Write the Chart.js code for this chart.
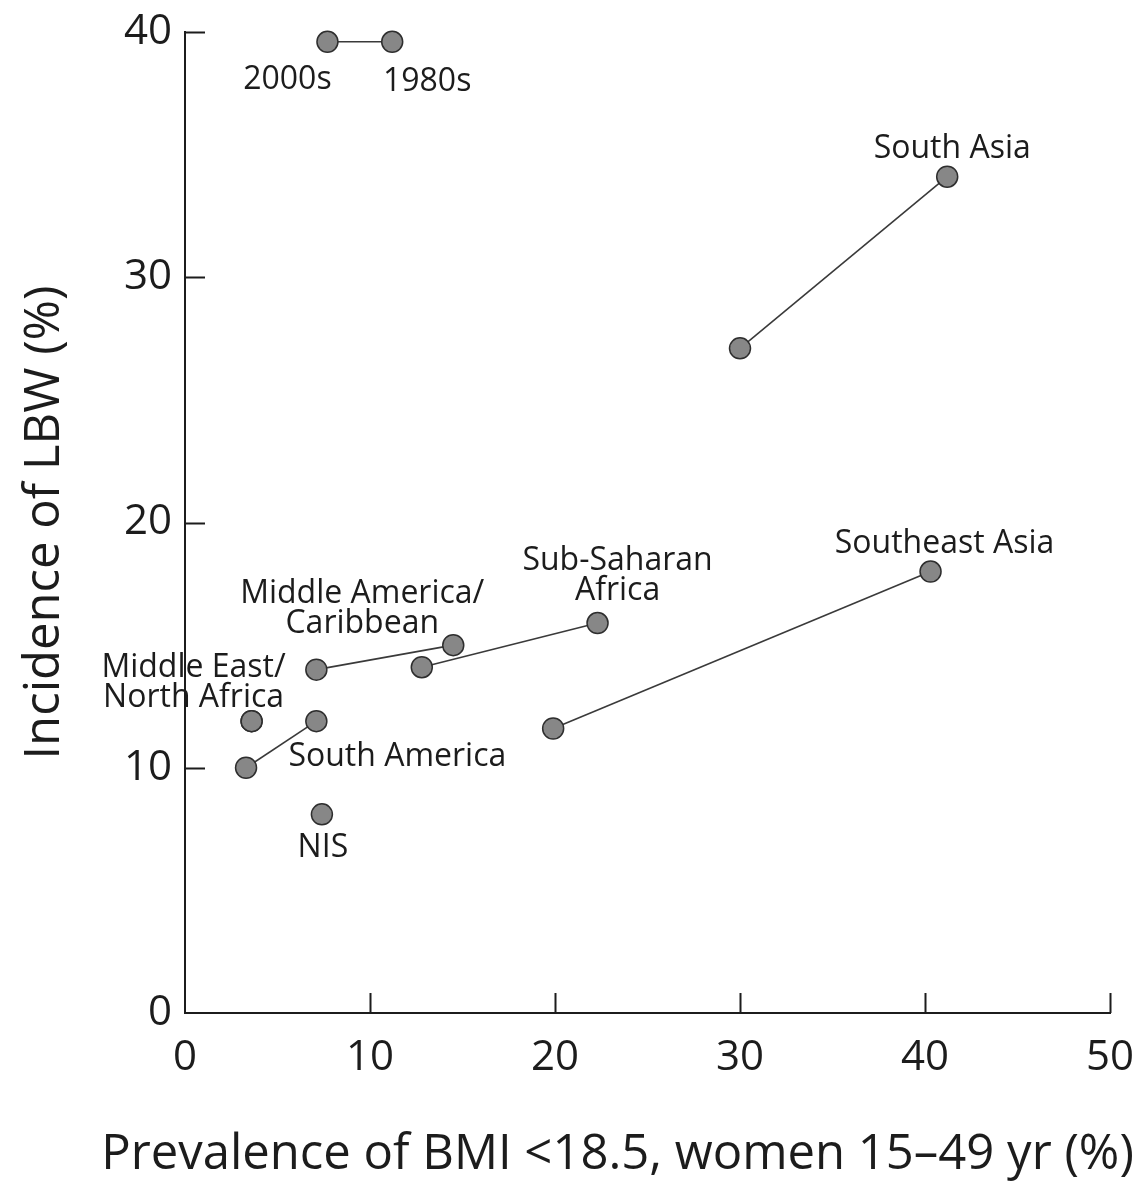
<!DOCTYPE html>
<html>
<head>
<meta charset="utf-8">
<script src="https://cdn.jsdelivr.net/npm/chart.js@4/dist/chart.umd.min.js"></script>
<style>
  html, body { margin: 0; padding: 0; background: #fff; }
  #wrap { width: 1142px; height: 1183px; position: relative; }
</style>
</head>
<body>
<div id="wrap"><canvas id="chart"></canvas></div>
<script>
// Maternal underweight (BMI < 18.5) vs incidence of low birth weight, by region,
// each region shown as a 2000s point joined to its 1980s point.
const regions = ['South Asia', 'Southeast Asia', 'Sub-Saharan Africa',
  'Middle America/Caribbean', 'Middle East/North Africa', 'South America', 'NIS'];
const regionLabelLines = [
  ['South Asia'], ['Southeast Asia'], ['Sub-Saharan', 'Africa'],
  ['Middle America/', 'Caribbean'], ['Middle East/', 'North Africa'],
  ['South America'], ['NIS']
];
const bmi2000s = [30.0, 19.9, 12.8, 7.1, 3.6, 3.3, 7.4];
const lbw2000s = [27.1, 11.6, 14.1, 14.0, 11.9, 10.0, 8.1];
const bmi1980s = [41.2, 40.3, 22.3, 14.5, 3.6, 7.1, null];
const lbw1980s = [34.1, 18.0, 15.9, 15.0, 11.9, 11.9, null];

// Key in the upper left: one 2000s/1980s pair
const keyLabels = ['2000s', '1980s'];
const keyBmi = [7.7, 11.2];
const keyLbw = [39.6, 39.6];

const xTicks = [0, 10, 20, 30, 40, 50];
const yTicks = [0, 10, 20, 30, 40];
const xTitle = 'Prevalence of BMI <18.5, women 15–49 yr (%)';
const yTitle = 'Incidence of LBW (%)';

// Where each region's text sits: which point it hangs off and the pixel shift from it
const labelPlacement = [
  { point: 1, dx: 5, dy: -28 },
  { point: 1, dx: 14, dy: -28 },
  { point: 1, dx: 20, dy: -62 },
  { point: 1, dx: -91, dy: -51 },
  { point: 0, dx: -58, dy: -53 },
  { point: 1, dx: 81, dy: 36 },
  { point: 0, dx: 1, dy: 34 }
];
const keyPlacement = [{ dx: -40, dy: 38 }, { dx: 35, dy: 40 }];

const FONT = '"Open Sans", "Noto Sans", sans-serif';
const INK = '#1c1c1c';
const markerStyle = {
  pointRadius: 10.5, pointHoverRadius: 10.5,
  pointBackgroundColor: '#878787', pointBorderColor: '#2e2e2e', pointBorderWidth: 1.5,
  borderColor: '#3a3a3a', borderWidth: 1.6, showLine: true, fill: false, clip: false
};

const datasets = regions.map((name, i) => {
  const pts = [{ x: bmi2000s[i], y: lbw2000s[i] }];
  if (bmi1980s[i] !== null) pts.push({ x: bmi1980s[i], y: lbw1980s[i] });
  return Object.assign({ label: name, data: pts }, markerStyle);
});
datasets.push(Object.assign({
  label: 'key',
  data: keyBmi.map((x, i) => ({ x, y: keyLbw[i] }))
}, markerStyle));

// Inward tick marks on both axes
const inwardTicks = {
  id: 'inwardTicks',
  beforeDatasetsDraw(chart) {
    const { ctx, chartArea: a, scales: { x, y } } = chart;
    ctx.save();
    ctx.strokeStyle = INK;
    ctx.lineWidth = 2;
    ctx.beginPath();
    xTicks.slice(1).forEach(v => {
      const px = Math.round(x.getPixelForValue(v)) + 0.5;
      ctx.moveTo(px, a.bottom); ctx.lineTo(px, a.bottom - 20);
    });
    yTicks.slice(1).forEach(v => {
      const py = Math.round(y.getPixelForValue(v)) + 0.5;
      ctx.moveTo(a.left, py); ctx.lineTo(a.left + 20, py);
    });
    ctx.stroke();
    ctx.restore();
  }
};

// Region names, key text, and the horizontal axis title (set a little left of the plot centre)
const pointText = {
  id: 'pointText',
  afterDatasetsDraw(chart) {
    const { ctx, chartArea: a } = chart;
    ctx.save();
    ctx.fillStyle = INK;
    ctx.font = '32px ' + FONT;
    ctx.textAlign = 'center';
    ctx.textBaseline = 'middle';
    regions.forEach((name, i) => {
      const place = labelPlacement[i];
      const el = chart.getDatasetMeta(i).data[place.point];
      regionLabelLines[i].forEach((line, j) => {
        ctx.fillText(line, el.x + place.dx, el.y + place.dy + j * 30);
      });
    });
    const keyMeta = chart.getDatasetMeta(regions.length);
    keyLabels.forEach((t, i) => {
      const el = keyMeta.data[i];
      ctx.fillText(t, el.x + keyPlacement[i].dx, el.y + keyPlacement[i].dy);
    });
    ctx.font = '49px ' + FONT;
    ctx.fillText(xTitle, a.left + (a.right - a.left) / 2 - 30, a.bottom + 142);
    ctx.restore();
  }
};

new Chart(document.getElementById('chart'), {
  type: 'scatter',
  data: { datasets },
  options: {
    responsive: true,
    maintainAspectRatio: false,
    animation: false,
    events: [],
    layout: { padding: { top: 32, right: 32, left: 0, bottom: 0 } },
    plugins: { legend: { display: false }, tooltip: { enabled: false } },
    scales: {
      x: {
        type: 'linear', min: 0, max: 50,
        afterBuildTicks(s) { s.ticks = xTicks.map(v => ({ value: v })); },
        afterFit(s) { s.height = 170; s.paddingLeft = 0; s.paddingRight = 0; },
        grid: { display: false, drawTicks: false },
        border: { display: true, color: INK, width: 2 },
        ticks: { color: INK, font: { family: FONT, size: 42 }, padding: 20, maxRotation: 0 },
        title: { display: false }
      },
      y: {
        type: 'linear', min: 0, max: 40,
        afterBuildTicks(s) { s.ticks = yTicks.map(v => ({ value: v })); },
        afterFit(s) { s.width = 185; s.paddingTop = 0; s.paddingBottom = 0; },
        grid: { display: false, drawTicks: false },
        border: { display: true, color: INK, width: 2 },
        ticks: { color: INK, font: { family: FONT, size: 42 }, padding: 13 },
        title: {
          display: true, text: yTitle,
          color: INK, font: { family: FONT, size: 49 }, padding: { top: 16, bottom: 0 }
        }
      }
    }
  },
  plugins: [inwardTicks, pointText]
});
</script>
</body>
</html>
